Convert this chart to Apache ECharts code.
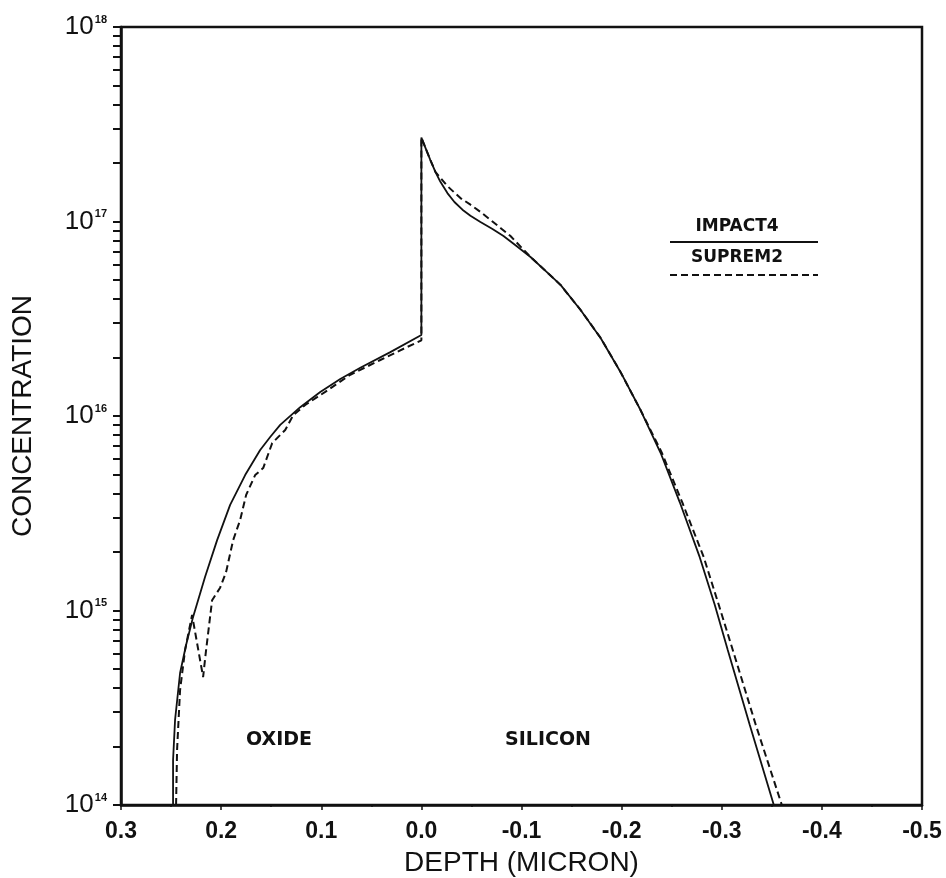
<!DOCTYPE html>
<html>
<head>
<meta charset="utf-8">
<script src="https://cdn.jsdelivr.net/npm/echarts@6/dist/echarts.min.js"></script>
<style>
html,body{margin:0;padding:0;background:#fff;}
#chart{width:946px;height:878px;}
</style>
</head>
<body>
<div id="chart"></div>
<script>
// ---- data (depth in micron, concentration in cm^-3) ----
const impactDepth = [0.248,0.248,0.246,0.241,0.235,0.228,0.216,0.204,0.191,0.176,0.161,0.151,0.141,0.121,0.101,0.081,0.061,0.031,0.0,0.0,
  -0.009,-0.014,-0.019,-0.026,-0.033,-0.041,-0.049,-0.059,-0.071,-0.082,-0.095,-0.109,-0.124,-0.139,-0.159,-0.179,-0.199,-0.219,-0.239,-0.258,-0.278,-0.293,-0.306,-0.328,-0.352];
const impactConc  = [1.0e14,1.7e14,2.74e14,4.77e14,6.65e14,9.27e14,1.49e15,2.30e15,3.49e15,4.97e15,6.69e15,7.8e15,9.0e15,1.11e16,1.33e16,1.55e16,1.77e16,2.13e16,2.61e16,2.7e17,
  2.07e17,1.80e17,1.60e17,1.40e17,1.26e17,1.15e17,1.07e17,9.94e16,9.15e16,8.42e16,7.48e16,6.57e16,5.57e16,4.72e16,3.51e16,2.52e16,1.68e16,1.07e16,6.45e15,3.61e15,1.88e15,1.07e15,6.27e14,2.58e14,1.0e14];

const supremDepth = [0.245,0.244,0.241,0.236,0.229,0.218,0.215,0.209,0.201,0.195,0.188,0.181,0.175,0.166,0.158,0.149,0.136,0.128,0.116,0.096,0.071,0.041,0.016,0.0,0.0,
  -0.009,-0.014,-0.026,-0.039,-0.049,-0.059,-0.069,-0.079,-0.089,-0.109,-0.124,-0.139,-0.159,-0.179,-0.199,-0.219,-0.240,-0.261,-0.282,-0.297,-0.311,-0.334,-0.360];
const supremConc  = [1.0e14,1.92e14,3.9e14,6.27e14,9.48e14,4.55e14,6.27e14,1.13e15,1.31e15,1.58e15,2.30e15,2.92e15,3.93e15,4.97e15,5.4e15,7.26e15,8.47e15,1.01e16,1.14e16,1.33e16,1.63e16,1.94e16,2.24e16,2.45e16,2.7e17,
  2.07e17,1.80e17,1.52e17,1.32e17,1.22e17,1.12e17,1.02e17,9.27e16,8.42e16,6.57e16,5.57e16,4.72e16,3.51e16,2.52e16,1.68e16,1.07e16,6.5e15,3.55e15,1.88e15,1.07e15,6.27e14,2.58e14,1.0e14];

const xTickLabels = ['0.3','0.2','0.1','0.0','-0.1','-0.2','-0.3','-0.4','-0.5'];
const xTickValues = [0.3,0.2,0.1,0.0,-0.1,-0.2,-0.3,-0.4,-0.5];
const yTickExponents = [14,15,16,17,18];

const seriesNames = ['IMPACT4','SUPREM2'];
const regionLabels = ['OXIDE','SILICON'];

function pairs(xs, ys){ return xs.map((x,i)=>[x, ys[i]]); }

const chart = echarts.init(document.getElementById('chart'), null, {renderer:'canvas'});
const ink = '#111';

const option = {
  backgroundColor:'#fff',
  animation:false,
  grid:{left:121,right:24,top:27,bottom:73,containLabel:false,outerBoundsMode:'none',
        show:true,borderColor:ink,borderWidth:2.5,backgroundColor:'transparent'},
  xAxis:{
    type:'value', min:-0.5, max:0.3, interval:0.1, inverse:true,
    name:'DEPTH (MICRON)', nameLocation:'middle', nameGap:44,
    nameTextStyle:{fontFamily:'Liberation Sans', fontSize:28, color:ink},
    axisLine:{show:true,onZero:false,lineStyle:{color:ink,width:2.5}},
    axisTick:{show:true,inside:false,length:5,lineStyle:{color:ink,width:1.5}},
    minorTick:{show:true,splitNumber:2,length:2,lineStyle:{color:ink,width:1.5}},
    splitLine:{show:false},
    axisLabel:{margin:15,color:ink,fontFamily:'Liberation Sans',fontWeight:'bold',fontSize:23,
      formatter:function(v){
        let best=0, d=1e9;
        xTickValues.forEach((t,i)=>{ if(Math.abs(t-v)<d){d=Math.abs(t-v);best=i;} });
        return xTickLabels[best];
      }}
  },
  yAxis:{
    type:'log', logBase:10, min:1e14, max:1e18,
    name:'CONCENTRATION', nameLocation:'middle', nameGap:84, nameRotate:90,
    nameTextStyle:{fontFamily:'Liberation Sans', fontSize:28, color:ink},
    axisLine:{show:true,onZero:false,lineStyle:{color:ink,width:2.5}},
    axisTick:{show:true,inside:false,length:8,lineStyle:{color:ink,width:2}},
    minorTick:{show:true,splitNumber:9,length:8,lineStyle:{color:ink,width:2}},
    splitLine:{show:false},
    minorSplitLine:{show:false},
    axisLabel:{margin:14,color:ink,
      formatter:function(v){
        const e = Math.round(Math.log10(v));
        const ex = yTickExponents.indexOf(e) >= 0 ? e : e;
        return '{b|10}{s|' + ex + '}';
      },
      rich:{
        b:{fontFamily:'Liberation Sans',fontSize:26,color:ink,lineHeight:26},
        s:{fontFamily:'Liberation Sans',fontSize:11,fontWeight:'bold',color:ink,verticalAlign:'top',lineHeight:12,padding:[0,0,0,1]}
      }}
  },
  series:[
    {name:seriesNames[0],type:'line',data:pairs(impactDepth,impactConc),showSymbol:false,symbol:'none',
     clip:true,lineStyle:{color:ink,width:1.8,type:'solid'},z:3},
    {name:seriesNames[1],type:'line',data:pairs(supremDepth,supremConc),showSymbol:false,symbol:'none',
     clip:true,lineStyle:{color:ink,width:2,type:[7,4]},z:2}
  ],
  graphic:[
    {type:'text',x:279,y:740,style:{text:regionLabels[0],fill:ink,font:'bold 19px "DejaVu Sans"',align:'center',verticalAlign:'middle'}},
    {type:'text',x:548,y:740,style:{text:regionLabels[1],fill:ink,font:'bold 19px "DejaVu Sans"',align:'center',verticalAlign:'middle'}},
    {type:'text',x:737,y:227,style:{text:seriesNames[0],fill:ink,font:'bold 17px "DejaVu Sans"',align:'center',verticalAlign:'middle'}},
    {type:'line',shape:{x1:670,y1:242,x2:818,y2:242},style:{stroke:ink,lineWidth:1.8}},
    {type:'text',x:737,y:258,style:{text:seriesNames[1],fill:ink,font:'bold 17px "DejaVu Sans"',align:'center',verticalAlign:'middle'}},
    {type:'line',shape:{x1:670,y1:275,x2:818,y2:275},style:{stroke:ink,lineWidth:2,lineDash:[7,4]}}
  ]
};
chart.setOption(option);
</script>
</body>
</html>
